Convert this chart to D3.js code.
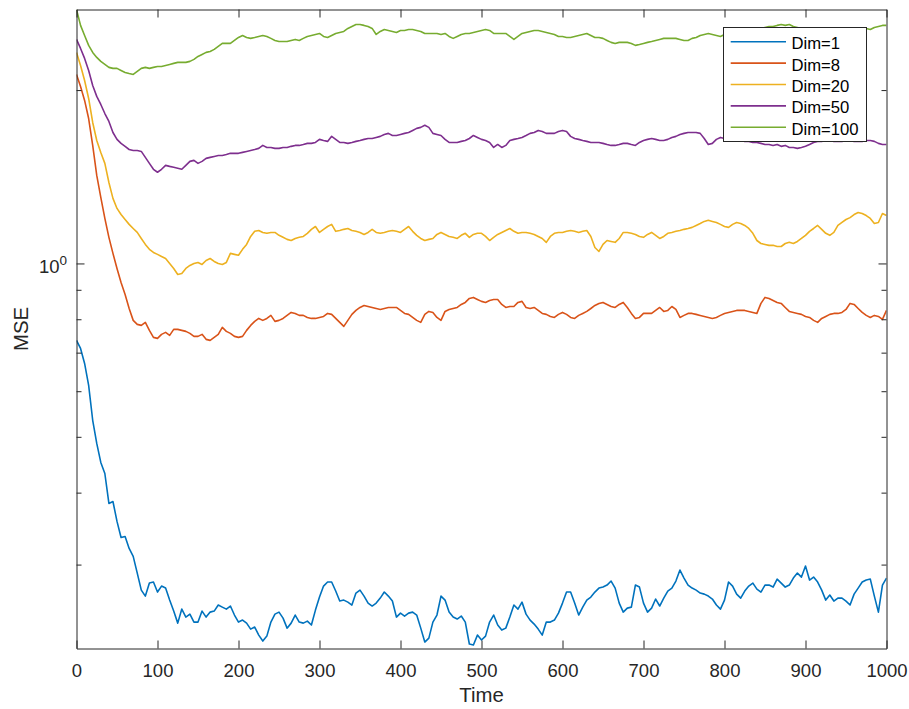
<!DOCTYPE html>
<html>
<head>
<meta charset="utf-8">
<script src="https://cdn.jsdelivr.net/npm/d3@7"></script>
<style>
  body { margin: 0; background: #fff; }
  svg { display: block; font-family: "Liberation Sans", Arial, Helvetica, sans-serif; }
</style>
</head>
<body>
<svg id="chart" width="909" height="709"></svg>
<script>
// Time steps shared by every run
const time = d3.range(0, 1001, 5);

// MSE per run, one value per time step (rows of ten steps)
const dim1 = [
  0.7353, 0.7119, 0.6705, 0.6142, 0.5342, 0.4870, 0.4513, 0.4318, 0.3831, 0.3861,
  0.3565, 0.3344, 0.3357, 0.3200, 0.3100, 0.2900, 0.2709, 0.2645, 0.2786, 0.2798,
  0.2688, 0.2753, 0.2731, 0.2603, 0.2491, 0.2374, 0.2511, 0.2432, 0.2461, 0.2384,
  0.2384, 0.2491, 0.2432, 0.2481, 0.2491, 0.2552, 0.2531, 0.2511, 0.2542, 0.2452,
  0.2384, 0.2403, 0.2374, 0.2318, 0.2337, 0.2263, 0.2210, 0.2254, 0.2384, 0.2461,
  0.2481, 0.2422, 0.2327, 0.2374, 0.2452, 0.2384, 0.2374, 0.2393, 0.2356, 0.2501,
  0.2635, 0.2753, 0.2798, 0.2798, 0.2699, 0.2593, 0.2603, 0.2582, 0.2552, 0.2677,
  0.2709, 0.2645, 0.2572, 0.2542, 0.2572, 0.2624, 0.2688, 0.2645, 0.2593, 0.2432,
  0.2471, 0.2442, 0.2471, 0.2481, 0.2452, 0.2327, 0.2201, 0.2236, 0.2384, 0.2452,
  0.2645, 0.2603, 0.2481, 0.2432, 0.2413, 0.2442, 0.2384, 0.2184, 0.2175, 0.2263,
  0.2219, 0.2254, 0.2384, 0.2452, 0.2356, 0.2309, 0.2327, 0.2432, 0.2552, 0.2511,
  0.2582, 0.2461, 0.2403, 0.2365, 0.2318, 0.2263, 0.2384, 0.2384, 0.2403, 0.2471,
  0.2572, 0.2688, 0.2688, 0.2572, 0.2452, 0.2531, 0.2603, 0.2635, 0.2688, 0.2731,
  0.2742, 0.2764, 0.2809, 0.2731, 0.2572, 0.2481, 0.2521, 0.2531, 0.2764, 0.2742,
  0.2572, 0.2481, 0.2521, 0.2614, 0.2542, 0.2624, 0.2699, 0.2731, 0.2809, 0.2935,
  0.2843, 0.2764, 0.2731, 0.2709, 0.2677, 0.2666, 0.2645, 0.2614, 0.2552, 0.2511,
  0.2603, 0.2798, 0.2753, 0.2666, 0.2624, 0.2699, 0.2753, 0.2786, 0.2720, 0.2688,
  0.2764, 0.2764, 0.2742, 0.2831, 0.2786, 0.2742, 0.2764, 0.2843, 0.2900, 0.2854,
  0.2982, 0.2820, 0.2854, 0.2798, 0.2709, 0.2603, 0.2656, 0.2593, 0.2624, 0.2624,
  0.2593, 0.2552, 0.2666, 0.2731, 0.2798, 0.2820, 0.2831, 0.2645, 0.2481, 0.2764,
  0.2843
];
const dim8 = [
  2.129, 2.029, 1.919, 1.785, 1.603, 1.422, 1.302, 1.197, 1.110, 1.041,
  0.9802, 0.9268, 0.8834, 0.8352, 0.7964, 0.7838, 0.7806, 0.7900, 0.7652, 0.7441,
  0.7411, 0.7531, 0.7591, 0.7501, 0.7683, 0.7683, 0.7652, 0.7622, 0.7561, 0.7471,
  0.7471, 0.7531, 0.7382, 0.7353, 0.7441, 0.7531, 0.7744, 0.7622, 0.7561, 0.7471,
  0.7441, 0.7471, 0.7652, 0.7806, 0.7932, 0.8027, 0.7964, 0.8027, 0.8124, 0.7932,
  0.7964, 0.8027, 0.8124, 0.8222, 0.8189, 0.8124, 0.8124, 0.8059, 0.8027, 0.8027,
  0.8059, 0.8091, 0.8189, 0.8157, 0.8027, 0.7900, 0.7775, 0.7964, 0.8157, 0.8288,
  0.8386, 0.8453, 0.8419, 0.8386, 0.8352, 0.8320, 0.8352, 0.8386, 0.8386, 0.8386,
  0.8288, 0.8189, 0.8157, 0.8059, 0.7964, 0.7900, 0.8157, 0.8255, 0.8222, 0.8059,
  0.7964, 0.8255, 0.8320, 0.8352, 0.8386, 0.8489, 0.8557, 0.8695, 0.8730, 0.8660,
  0.8592, 0.8557, 0.8626, 0.8660, 0.8660, 0.8489, 0.8386, 0.8419, 0.8419, 0.8557,
  0.8592, 0.8386, 0.8352, 0.8386, 0.8288, 0.8189, 0.8157, 0.8091, 0.8059, 0.8157,
  0.8222, 0.8157, 0.8059, 0.8027, 0.8124, 0.8189, 0.8255, 0.8352, 0.8453, 0.8523,
  0.8557, 0.8489, 0.8419, 0.8386, 0.8489, 0.8557, 0.8386, 0.8189, 0.8027, 0.8059,
  0.8189, 0.8189, 0.8189, 0.8288, 0.8386, 0.8255, 0.8288, 0.8419, 0.8320, 0.8059,
  0.8124, 0.8189, 0.8189, 0.8157, 0.8124, 0.8091, 0.8059, 0.8027, 0.8059, 0.8124,
  0.8189, 0.8222, 0.8255, 0.8288, 0.8288, 0.8288, 0.8255, 0.8222, 0.8189, 0.8523,
  0.8730, 0.8695, 0.8626, 0.8557, 0.8523, 0.8386, 0.8255, 0.8222, 0.8189, 0.8157,
  0.8091, 0.8059, 0.7964, 0.7900, 0.8027, 0.8091, 0.8157, 0.8189, 0.8189, 0.8222,
  0.8320, 0.8523, 0.8489, 0.8352, 0.8222, 0.8124, 0.8059, 0.8124, 0.8091, 0.7995,
  0.8288
];
const dim20 = [
  2.324, 2.207, 2.078, 1.934, 1.757, 1.635, 1.558, 1.492, 1.382, 1.297,
  1.246, 1.216, 1.192, 1.169, 1.150, 1.132, 1.105, 1.079, 1.058, 1.045,
  1.037, 1.028, 1.020, 1.000, 0.9802, 0.9570, 0.9608, 0.9802, 0.9920, 1.000,
  1.004, 0.9960, 1.012, 1.020, 1.008, 1.000, 0.9960, 1.004, 1.041, 1.037,
  1.033, 1.058, 1.079, 1.114, 1.137, 1.141, 1.132, 1.128, 1.132, 1.132,
  1.119, 1.110, 1.101, 1.096, 1.105, 1.110, 1.114, 1.128, 1.146, 1.159,
  1.132, 1.146, 1.159, 1.169, 1.137, 1.141, 1.146, 1.150, 1.141, 1.137,
  1.132, 1.123, 1.132, 1.146, 1.132, 1.128, 1.132, 1.137, 1.141, 1.137,
  1.132, 1.146, 1.159, 1.137, 1.119, 1.105, 1.096, 1.101, 1.105, 1.123,
  1.132, 1.123, 1.114, 1.110, 1.105, 1.119, 1.128, 1.110, 1.123, 1.128,
  1.128, 1.114, 1.096, 1.110, 1.123, 1.132, 1.141, 1.150, 1.137, 1.128,
  1.132, 1.132, 1.128, 1.123, 1.114, 1.105, 1.088, 1.114, 1.128, 1.132,
  1.132, 1.137, 1.141, 1.137, 1.132, 1.137, 1.141, 1.114, 1.066, 1.049,
  1.079, 1.096, 1.092, 1.088, 1.105, 1.132, 1.132, 1.128, 1.123, 1.114,
  1.110, 1.123, 1.132, 1.119, 1.105, 1.114, 1.128, 1.132, 1.137, 1.141,
  1.146, 1.150, 1.155, 1.164, 1.173, 1.183, 1.188, 1.183, 1.178, 1.169,
  1.159, 1.155, 1.169, 1.178, 1.173, 1.164, 1.150, 1.128, 1.096, 1.083,
  1.079, 1.075, 1.075, 1.070, 1.070, 1.083, 1.088, 1.083, 1.092, 1.105,
  1.119, 1.137, 1.150, 1.164, 1.146, 1.128, 1.119, 1.132, 1.164, 1.178,
  1.192, 1.201, 1.216, 1.226, 1.221, 1.211, 1.197, 1.173, 1.178, 1.221,
  1.211
];
const dim50 = [
  2.449, 2.362, 2.270, 2.163, 2.037, 1.950, 1.888, 1.821, 1.764, 1.688,
  1.642, 1.616, 1.597, 1.577, 1.571, 1.571, 1.565, 1.528, 1.492, 1.457,
  1.440, 1.457, 1.480, 1.474, 1.469, 1.463, 1.457, 1.480, 1.504, 1.510,
  1.492, 1.504, 1.522, 1.528, 1.534, 1.540, 1.540, 1.546, 1.553, 1.553,
  1.553, 1.559, 1.565, 1.571, 1.577, 1.584, 1.603, 1.590, 1.590, 1.584,
  1.584, 1.590, 1.590, 1.597, 1.603, 1.603, 1.609, 1.616, 1.616, 1.622,
  1.642, 1.635, 1.629, 1.662, 1.642, 1.622, 1.622, 1.616, 1.622, 1.629,
  1.635, 1.642, 1.648, 1.648, 1.655, 1.662, 1.675, 1.682, 1.668, 1.668,
  1.675, 1.682, 1.688, 1.702, 1.716, 1.723, 1.737, 1.723, 1.682, 1.675,
  1.668, 1.642, 1.622, 1.622, 1.622, 1.629, 1.635, 1.648, 1.668, 1.655,
  1.642, 1.635, 1.622, 1.590, 1.609, 1.590, 1.603, 1.635, 1.642, 1.648,
  1.655, 1.668, 1.682, 1.688, 1.702, 1.695, 1.682, 1.682, 1.682, 1.695,
  1.702, 1.695, 1.662, 1.648, 1.642, 1.635, 1.629, 1.622, 1.622, 1.622,
  1.616, 1.609, 1.603, 1.603, 1.609, 1.616, 1.616, 1.609, 1.603, 1.622,
  1.635, 1.642, 1.648, 1.642, 1.635, 1.635, 1.642, 1.655, 1.662, 1.675,
  1.682, 1.688, 1.688, 1.688, 1.682, 1.648, 1.609, 1.616, 1.642, 1.655,
  1.648, 1.642, 1.642, 1.635, 1.635, 1.629, 1.629, 1.622, 1.622, 1.616,
  1.609, 1.609, 1.603, 1.609, 1.597, 1.603, 1.590, 1.590, 1.584, 1.590,
  1.597, 1.609, 1.622, 1.629, 1.629, 1.635, 1.635, 1.629, 1.629, 1.629,
  1.635, 1.635, 1.629, 1.629, 1.629, 1.635, 1.635, 1.629, 1.616, 1.609,
  1.609
];
const dim100 = [
  2.760, 2.590, 2.488, 2.391, 2.325, 2.279, 2.243, 2.216, 2.190, 2.181,
  2.181, 2.163, 2.146, 2.137, 2.129, 2.155, 2.181, 2.190, 2.181, 2.190,
  2.198, 2.198, 2.207, 2.216, 2.225, 2.234, 2.234, 2.234, 2.243, 2.261,
  2.288, 2.306, 2.325, 2.334, 2.353, 2.381, 2.410, 2.410, 2.410, 2.439,
  2.468, 2.488, 2.468, 2.459, 2.468, 2.478, 2.488, 2.478, 2.459, 2.439,
  2.429, 2.429, 2.429, 2.439, 2.449, 2.439, 2.459, 2.478, 2.488, 2.498,
  2.508, 2.478, 2.468, 2.488, 2.508, 2.518, 2.528, 2.559, 2.579, 2.600,
  2.600, 2.590, 2.579, 2.559, 2.498, 2.528, 2.548, 2.538, 2.528, 2.518,
  2.538, 2.538, 2.548, 2.548, 2.538, 2.528, 2.508, 2.508, 2.508, 2.508,
  2.498, 2.508, 2.478, 2.459, 2.478, 2.498, 2.508, 2.508, 2.518, 2.528,
  2.538, 2.548, 2.538, 2.508, 2.508, 2.508, 2.508, 2.478, 2.449, 2.478,
  2.508, 2.518, 2.528, 2.538, 2.538, 2.528, 2.518, 2.508, 2.498, 2.478,
  2.478, 2.468, 2.468, 2.478, 2.488, 2.498, 2.508, 2.488, 2.468, 2.468,
  2.459, 2.439, 2.420, 2.410, 2.420, 2.420, 2.420, 2.410, 2.391, 2.400,
  2.410, 2.420, 2.429, 2.439, 2.449, 2.459, 2.459, 2.459, 2.459, 2.449,
  2.439, 2.439, 2.459, 2.468, 2.488, 2.498, 2.508, 2.498, 2.488, 2.478,
  2.498, 2.508, 2.518, 2.518, 2.528, 2.528, 2.538, 2.538, 2.548, 2.559,
  2.569, 2.579, 2.579, 2.590, 2.600, 2.590, 2.600, 2.579, 2.569, 2.559,
  2.548, 2.548, 2.538, 2.538, 2.528, 2.528, 2.538, 2.538, 2.538, 2.538,
  2.548, 2.548, 2.559, 2.559, 2.559, 2.559, 2.548, 2.569, 2.579, 2.590,
  2.590
];

const seriesNames = ["Dim=1", "Dim=8", "Dim=20", "Dim=50", "Dim=100"];
const seriesValues = [dim1, dim8, dim20, dim50, dim100];
const seriesColors = ["#0072BD", "#D95319", "#EDB120", "#7E2F8E", "#77AC30"];

const xTicks = [0, 100, 200, 300, 400, 500, 600, 700, 800, 900, 1000];
const yMajorTicks = [1];
const yMinorTicks = [0.3, 0.4, 0.5, 0.6, 0.7, 0.8, 0.9, 2];
const xLimits = [0, 1000];
const yLimits = [0.2145, 2.76];

// Layout
const plot = { left: 76.5, right: 886.5, top: 9.5, bottom: 648.5 };
const axisColor = "#262626";
const tickFont = 18.5, labelFont = 20.35, legendFont = 16.65;

const svg = d3.select("#chart");
const x = d3.scaleLinear().domain(xLimits).range([plot.left, plot.right]);
const y = d3.scaleLog().domain(yLimits).range([plot.bottom, plot.top]);

// Clip lines to the axes box
svg.append("defs").append("clipPath").attr("id", "plotClip")
  .append("rect")
  .attr("x", plot.left).attr("y", plot.top)
  .attr("width", plot.right - plot.left).attr("height", plot.bottom - plot.top);

// Data lines
const line = d3.line()
  .x((d, i) => x(time[i]))
  .y(d => y(d));

svg.append("g").attr("clip-path", "url(#plotClip)")
  .selectAll("path")
  .data(seriesValues)
  .join("path")
  .attr("d", d => line(d))
  .attr("fill", "none")
  .attr("stroke", (d, i) => seriesColors[i])
  .attr("stroke-width", 1.6)
  .attr("stroke-linejoin", "round");

// Axes (ticks pointing inward, box on)
function styleAxis(g) {
  g.selectAll(".domain").attr("stroke", axisColor).attr("stroke-width", 1);
  g.selectAll(".tick line").attr("stroke", axisColor).attr("stroke-width", 1);
  g.selectAll(".tick text").attr("fill", axisColor);
}

const gx = svg.append("g")
  .attr("transform", `translate(0,${plot.bottom})`)
  .call(d3.axisBottom(x).tickValues(xTicks).tickSizeInner(-8).tickSizeOuter(0)
    .tickPadding(15).tickFormat(d3.format("d")));
gx.selectAll(".tick text").attr("font-size", tickFont).attr("font-family", null);
gx.call(styleAxis);

svg.append("g")
  .attr("transform", `translate(0,${plot.top})`)
  .call(d3.axisTop(x).tickValues(xTicks).tickSizeInner(-8).tickSizeOuter(0).tickFormat(""))
  .call(styleAxis);

svg.append("g")
  .attr("transform", `translate(${plot.left},0)`)
  .call(d3.axisLeft(y).tickValues(yMajorTicks).tickSizeInner(-8).tickSizeOuter(0).tickFormat(""))
  .call(styleAxis);
svg.append("g")
  .attr("transform", `translate(${plot.left},0)`)
  .call(d3.axisLeft(y).tickValues(yMinorTicks).tickSizeInner(-5).tickSizeOuter(0).tickFormat(""))
  .call(g => g.select(".domain").remove())
  .call(styleAxis);

svg.append("g")
  .attr("transform", `translate(${plot.right},0)`)
  .call(d3.axisRight(y).tickValues(yMajorTicks).tickSizeInner(-8).tickSizeOuter(0).tickFormat(""))
  .call(styleAxis);
svg.append("g")
  .attr("transform", `translate(${plot.right},0)`)
  .call(d3.axisRight(y).tickValues(yMinorTicks).tickSizeInner(-5).tickSizeOuter(0).tickFormat(""))
  .call(g => g.select(".domain").remove())
  .call(styleAxis);

// Decade label on the y axis: 10^0
yMajorTicks.forEach(v => {
  const t = svg.append("text")
    .attr("x", plot.left - 9.5)
    .attr("y", y(v) + 9.5)
    .attr("text-anchor", "end")
    .attr("fill", axisColor)
    .attr("font-size", tickFont)
    .text("10");
  t.append("tspan")
    .attr("dy", -8)
    .attr("font-size", 13.5)
    .text(String(Math.round(Math.log10(v))));
});

// Axis titles
svg.append("text")
  .attr("x", (plot.left + plot.right) / 2)
  .attr("y", 701.5)
  .attr("text-anchor", "middle")
  .attr("fill", axisColor)
  .attr("font-size", labelFont)
  .text("Time");

svg.append("text")
  .attr("transform", `translate(28,${(plot.top + plot.bottom) / 2}) rotate(-90)`)
  .attr("text-anchor", "middle")
  .attr("fill", axisColor)
  .attr("font-size", labelFont)
  .text("MSE");

// Legend
const legend = svg.append("g");
legend.append("rect")
  .attr("x", 723.5).attr("y", 27.5)
  .attr("width", 143).attr("height", 114)
  .attr("fill", "#fff")
  .attr("stroke", axisColor)
  .attr("stroke-width", 1);

const rowY = i => 41.7 + i * 21.4;
const rows = legend.selectAll("g.row")
  .data(seriesNames)
  .join("g")
  .attr("class", "row");
rows.append("line")
  .attr("x1", 730.7).attr("x2", 786)
  .attr("y1", (d, i) => rowY(i)).attr("y2", (d, i) => rowY(i))
  .attr("stroke", (d, i) => seriesColors[i])
  .attr("stroke-width", 1.6);
rows.append("text")
  .attr("x", 791.5)
  .attr("y", (d, i) => rowY(i) + 7.4)
  .attr("font-size", legendFont)
  .attr("fill", "#000")
  .text(d => d);
</script>
</body>
</html>
